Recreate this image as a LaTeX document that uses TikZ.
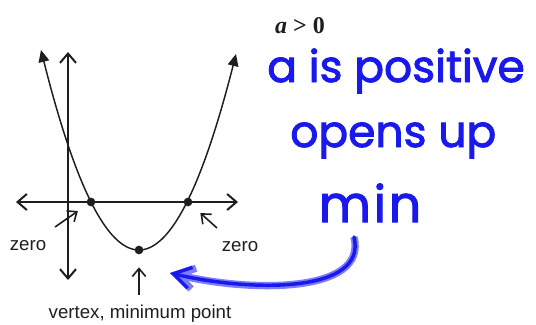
\documentclass[tikz,border=0pt]{standalone}
\usepackage{fontspec}
\setmainfont{Liberation Sans}
\newfontfamily\seriffont{Liberation Serif}
\newfontfamily\handfont[FakeBold=2]{Poppins}
\usetikzlibrary{arrows.meta}

\definecolor{pen}{RGB}{30,30,30}
\definecolor{ink}{RGB}{25,25,235}
\definecolor{inkglow}{RGB}{125,125,255}

\begin{document}
\begin{tikzpicture}[x=0.75pt,y=-0.75pt,
axis/.style={pen, line width=1.5pt, {Straight Barb[length=7pt,width=12pt]}-{Straight Barb[length=7pt,width=12pt]}},
curve/.style={pen, line width=1.1pt, {Triangle[length=9pt,width=8pt]}-{Triangle[length=9pt,width=8pt]}},
pointer/.style={pen, line width=1.2pt, -{Straight Barb[length=6pt,width=10pt]}},
dot/.style={circle, fill=pen, inner sep=0pt, minimum size=6.5pt},
label/.style={text=pen, font=\fontsize{14}{16}\selectfont},
hand/.style={ink, font=\handfont\fontsize{33}{36}\selectfont, inner sep=0pt},
inkarrow/.style={ink, line width=2.6pt, line cap=round, line join=round,
  -{Straight Barb[length=13pt,width=16pt]},
  preaction={draw=inkglow, line width=5.5pt, -{Straight Barb[length=13pt,width=16pt]}}}
]
\useasboundingbox (0,0) rectangle (536,325);

% axes
\draw[axis] (16,202) -- (238,202);
\draw[axis] (68,280) -- (68,52);

% the parabola
\draw[curve] plot[domain=41:236, samples=80] (\x, {250-0.02083*(\x-139)^2});

\node[dot] (z1) at (91,202) {};
\node[dot] (z2) at (188,202) {};
\node[dot] (vtx) at (139,250) {};

% labels
\node[label] (zeroL) at (28,246) {zero};
\node[label] (zeroR) at (240,247) {zero};
\node[label] (vlabel) at (140,314) {vertex, minimum point};
\node[font=\seriffont\bfseries\fontsize{18}{20}\selectfont, text=pen] (cond) at (300,26) {\itshape a\upshape\ > 0};

\coordinate (zlTail) at (55,227);
\coordinate (zrTail) at (217,228);
\coordinate (vTail) at (139,295);
\draw[pointer, shorten >=8.5pt] (zlTail) -- (z1);
\draw[pointer, shorten >=9pt] (zrTail) -- (z2);
\draw[pointer, shorten >=9.5pt] (vTail) -- (vtx);

% handwriting
\node[hand, anchor=base west] (pos) at (267,82) {a is positive};
\node[hand, anchor=base west] (up) at (290,147) {opens up};
\node[hand, anchor=base, font=\handfont\fontsize{38}{40}\selectfont] (min) at (370,222) {m\kern2pt i\kern2pt n};

\coordinate (inkTip) at (170,273);
\draw[inkarrow] ([xshift=-12pt,yshift=-11pt]min.south) .. controls (368,294) and (250,292) .. (inkTip);
\end{tikzpicture}
\end{document}
